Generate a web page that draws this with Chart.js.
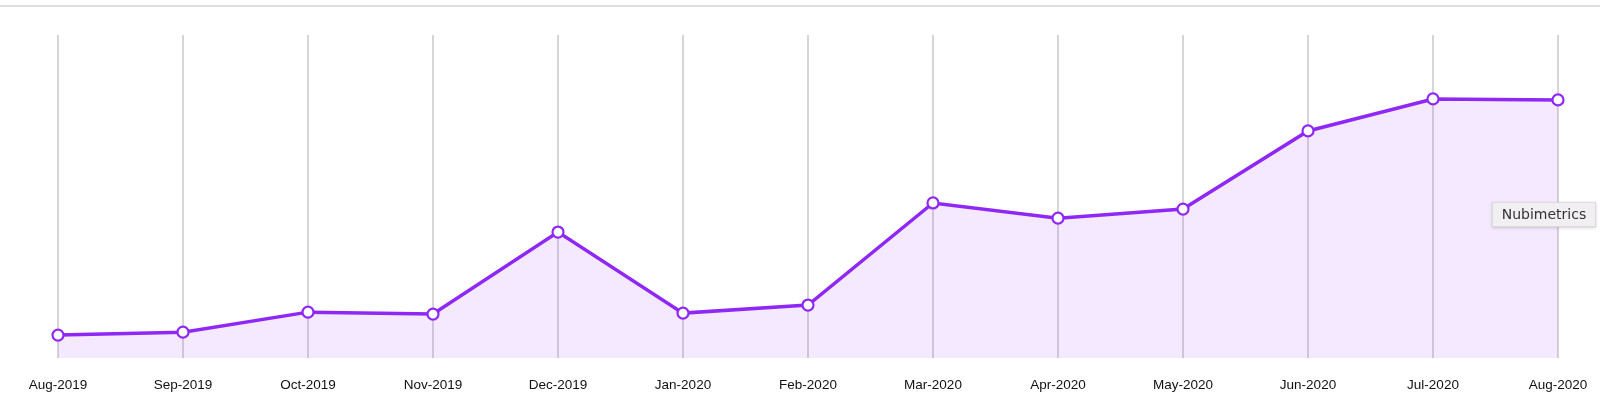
<!DOCTYPE html>
<html>
<head>
<meta charset="utf-8">
<script src="https://cdn.jsdelivr.net/npm/chart.js@4/dist/chart.umd.min.js"></script>
<style>
  html, body { margin: 0; padding: 0; background: #fff; }
  #wrap { position: relative; width: 1600px; height: 406px; overflow: hidden; }
  #topline { position: absolute; left: 0; top: 5px; width: 1600px; height: 2px; background: #dedede; }
  #chart { position: absolute; left: 0; top: 0; }
  #hint {
    position: absolute; left: 1492px; top: 202px; width: 104px; height: 25px;
    box-sizing: border-box; background: #f1eff2; border: 1px solid #dcdadd;
    box-shadow: 0 1px 3px rgba(0,0,0,0.18);
    font: 14px "DejaVu Sans", sans-serif; color: #333;
    line-height: 23px; text-align: center;
  }
</style>
</head>
<body>
<div id="wrap">
  <div id="topline"></div>
  <canvas id="chart" width="1600" height="406"></canvas>
  <div id="hint">Nubimetrics</div>
</div>
<script>
// months shown on the x axis
const months = ['Aug-2019', 'Sep-2019', 'Oct-2019', 'Nov-2019', 'Dec-2019', 'Jan-2020',
  'Feb-2020', 'Mar-2020', 'Apr-2020', 'May-2020', 'Jun-2020', 'Jul-2020', 'Aug-2020'];

// values (relative scale, 0..100)
const nubimetrics = [7.1, 8.0, 14.2, 13.6, 39.0, 13.9, 16.4, 48.0, 43.3, 46.1, 70.3, 80.2, 79.9];

const yMin = 0;
const yMax = 100;

const purple = 'rgb(143, 40, 245)';

new Chart(document.getElementById('chart'), {
  type: 'line',
  data: {
    labels: months,
    datasets: [{
      label: 'Nubimetrics',
      data: nubimetrics,
      borderColor: purple,
      borderWidth: 3.5,
      backgroundColor: 'rgba(143, 40, 245, 0.1)',
      fill: 'origin',
      tension: 0,
      pointRadius: 5.5,
      pointBorderWidth: 2.2,
      pointBackgroundColor: '#fff',
      pointBorderColor: purple
    }]
  },
  options: {
    responsive: false,
    animation: false,
    devicePixelRatio: 1,
    layout: { padding: { left: 58, right: 42, top: 35, bottom: 0 } },
    plugins: {
      legend: { display: false },
      tooltip: { enabled: false }
    },
    scales: {
      x: {
        border: { display: false },
        grid: { color: '#d6d6d6', lineWidth: 2, drawTicks: false },
        ticks: {
          padding: 19,
          color: '#111',
          maxRotation: 0,
          autoSkip: false,
          font: { family: '"Liberation Sans", Arial, sans-serif', size: 13.5 }
        },
        // chart.js doubles the tick padding and adds label half-widths; pin the axis box instead
        afterFit: (scale) => {
          scale.height = 48;
          scale.paddingLeft = 0;
          scale.paddingRight = 0;
        }
      },
      y: {
        display: false,
        min: yMin,
        max: yMax
      }
    }
  }
});
</script>
</body>
</html>
